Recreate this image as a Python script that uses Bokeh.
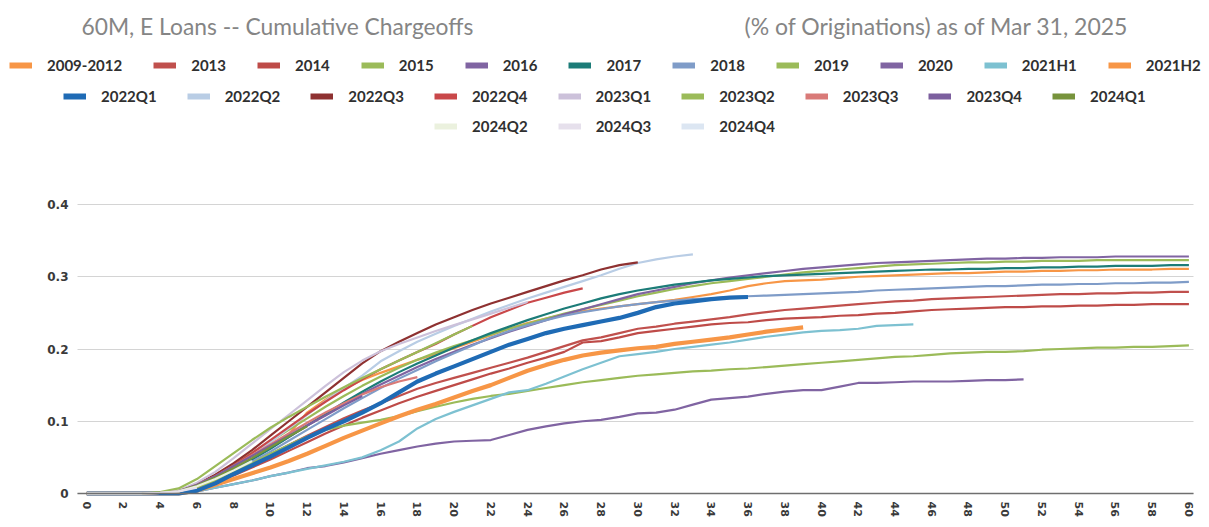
from bokeh.plotting import figure
from bokeh.models import Legend, LegendItem, Label, FixedTicker, Range1d, ColumnDataSource
from bokeh.embed import file_html
from bokeh.resources import INLINE

# ---------------- data (cumulative chargeoffs by month on book) ----------------
series_names = ["2009-2012", "2013", "2014", "2015", "2016", "2017", "2018", "2019",
                "2020", "2021H1", "2021H2",
                "2022Q1", "2022Q2", "2022Q3", "2022Q4", "2023Q1", "2023Q2", "2023Q3",
                "2023Q4", "2024Q1",
                "2024Q2", "2024Q3", "2024Q4"]

v_2009_2012 = [0, 0, 0, 0, 0.001, 0.003, 0.010, 0.020, 0.033, 0.048, 0.064, 0.082, 0.112, 0.130,
               0.145, 0.157, 0.167, 0.176, 0.185, 0.193, 0.201, 0.210, 0.219, 0.228, 0.236, 0.242,
               0.248, 0.252, 0.256, 0.259, 0.262, 0.265, 0.268, 0.272, 0.276, 0.281, 0.287, 0.291,
               0.294, 0.295, 0.296, 0.298, 0.300, 0.301, 0.302, 0.303, 0.304, 0.305, 0.305, 0.306,
               0.307, 0.307, 0.308, 0.308, 0.309, 0.309, 0.310, 0.310, 0.310, 0.311, 0.311]
v_2013 = [0, 0, 0, 0, 0.001, 0.003, 0.009, 0.018, 0.029, 0.041, 0.054, 0.067, 0.080, 0.092, 0.104,
          0.115, 0.125, 0.135, 0.145, 0.153, 0.160, 0.167, 0.174, 0.181, 0.188, 0.196, 0.204, 0.212,
          0.216, 0.222, 0.228, 0.231, 0.235, 0.238, 0.241, 0.244, 0.248, 0.251, 0.254, 0.256, 0.258,
          0.260, 0.262, 0.264, 0.266, 0.267, 0.269, 0.270, 0.271, 0.272, 0.273, 0.274, 0.275, 0.276,
          0.276, 0.277, 0.277, 0.278, 0.278, 0.279, 0.279]
v_2014 = [0, 0, 0, 0, 0.001, 0.002, 0.007, 0.015, 0.025, 0.036, 0.047, 0.059, 0.071, 0.083, 0.094,
          0.105, 0.115, 0.125, 0.134, 0.142, 0.150, 0.158, 0.166, 0.173, 0.181, 0.188, 0.196, 0.209,
          0.211, 0.216, 0.222, 0.225, 0.228, 0.231, 0.234, 0.236, 0.237, 0.240, 0.242, 0.243, 0.244,
          0.246, 0.247, 0.249, 0.250, 0.252, 0.254, 0.255, 0.256, 0.257, 0.258, 0.258, 0.259, 0.259,
          0.260, 0.260, 0.261, 0.261, 0.262, 0.262, 0.262]
v_2015 = [0, 0, 0, 0, 0.001, 0.004, 0.013, 0.025, 0.040, 0.056, 0.072, 0.088, 0.104, 0.120, 0.135,
          0.149, 0.162, 0.174, 0.185, 0.195, 0.204, 0.212, 0.220, 0.228, 0.235, 0.242, 0.249, 0.255,
          0.261, 0.267, 0.273, 0.278, 0.283, 0.287, 0.291, 0.294, 0.297, 0.300, 0.303, 0.306, 0.308,
          0.310, 0.312, 0.314, 0.316, 0.317, 0.318, 0.319, 0.320, 0.320, 0.321, 0.321, 0.322, 0.322,
          0.322, 0.323, 0.323, 0.323, 0.323, 0.323, 0.323]
v_2016 = [0, 0, 0, 0, 0.001, 0.003, 0.010, 0.021, 0.034, 0.048, 0.063, 0.078, 0.094, 0.109, 0.124,
          0.138, 0.151, 0.163, 0.175, 0.186, 0.196, 0.206, 0.215, 0.224, 0.232, 0.240, 0.248, 0.255,
          0.262, 0.269, 0.276, 0.281, 0.286, 0.291, 0.295, 0.299, 0.302, 0.305, 0.308, 0.311, 0.313,
          0.315, 0.317, 0.319, 0.320, 0.321, 0.322, 0.323, 0.324, 0.325, 0.325, 0.326, 0.326, 0.327,
          0.327, 0.327, 0.328, 0.328, 0.328, 0.328, 0.328]
v_2017 = [0, 0, 0, 0, 0.001, 0.003, 0.010, 0.020, 0.033, 0.047, 0.062, 0.078, 0.094, 0.110, 0.126,
          0.141, 0.155, 0.168, 0.180, 0.191, 0.202, 0.212, 0.222, 0.231, 0.240, 0.248, 0.256, 0.263,
          0.270, 0.276, 0.281, 0.285, 0.289, 0.292, 0.295, 0.297, 0.299, 0.301, 0.302, 0.303, 0.304,
          0.305, 0.306, 0.307, 0.308, 0.309, 0.310, 0.310, 0.311, 0.311, 0.312, 0.312, 0.313, 0.313,
          0.314, 0.314, 0.315, 0.315, 0.315, 0.316, 0.316]
v_2018 = [0, 0, 0, 0, 0.001, 0.003, 0.009, 0.019, 0.031, 0.044, 0.058, 0.073, 0.088, 0.103, 0.118,
          0.132, 0.146, 0.159, 0.171, 0.183, 0.194, 0.205, 0.216, 0.225, 0.233, 0.240, 0.246, 0.251,
          0.255, 0.259, 0.262, 0.265, 0.267, 0.269, 0.270, 0.272, 0.273, 0.274, 0.275, 0.276, 0.277,
          0.278, 0.279, 0.281, 0.282, 0.283, 0.284, 0.285, 0.286, 0.287, 0.287, 0.288, 0.289, 0.289,
          0.290, 0.290, 0.291, 0.291, 0.292, 0.292, 0.293]
v_2019 = [0, 0, 0, 0, 0.001, 0.001, 0.008, 0.018, 0.030, 0.042, 0.055, 0.067, 0.079, 0.088, 0.094,
          0.098, 0.102, 0.107, 0.114, 0.120, 0.126, 0.131, 0.135, 0.138, 0.142, 0.146, 0.150, 0.154,
          0.157, 0.160, 0.163, 0.165, 0.167, 0.169, 0.170, 0.172, 0.173, 0.175, 0.177, 0.179, 0.181,
          0.183, 0.185, 0.187, 0.189, 0.190, 0.192, 0.194, 0.195, 0.196, 0.196, 0.197, 0.199, 0.200,
          0.201, 0.202, 0.202, 0.203, 0.203, 0.204, 0.205]
v_2020 = [0, 0, 0, 0, 0, 0, 0.003, 0.008, 0.013, 0.018, 0.024, 0.029, 0.035, 0.038, 0.043, 0.049,
          0.055, 0.060, 0.065, 0.069, 0.072, 0.073, 0.074, 0.081, 0.088, 0.093, 0.097, 0.100, 0.102,
          0.106, 0.111, 0.112, 0.116, 0.123, 0.130, 0.132, 0.134, 0.138, 0.141, 0.143, 0.143, 0.148,
          0.153, 0.153, 0.154, 0.155, 0.155, 0.155, 0.156, 0.157, 0.157, 0.158]
v_2021H1 = [0, 0, 0, 0, 0, 0, 0.003, 0.008, 0.013, 0.018, 0.024, 0.029, 0.034, 0.039, 0.044, 0.050,
            0.060, 0.072, 0.090, 0.103, 0.113, 0.122, 0.131, 0.140, 0.143, 0.152, 0.162, 0.172, 0.181,
            0.190, 0.193, 0.196, 0.200, 0.203, 0.206, 0.209, 0.213, 0.217, 0.220, 0.223, 0.225, 0.226,
            0.228, 0.232, 0.233, 0.234]
v_2021H2 = [0, 0, 0, 0, 0, 0, 0.004, 0.012, 0.020, 0.028, 0.036, 0.045, 0.055, 0.066, 0.077, 0.087,
            0.097, 0.107, 0.116, 0.124, 0.133, 0.142, 0.150, 0.160, 0.170, 0.178, 0.185, 0.191, 0.195,
            0.198, 0.201, 0.203, 0.207, 0.210, 0.213, 0.216, 0.220, 0.224, 0.227, 0.230]
v_2022Q1 = [0, 0, 0, 0, 0, 0, 0.004, 0.014, 0.027, 0.039, 0.051, 0.064, 0.077, 0.089, 0.100, 0.112,
            0.125, 0.140, 0.155, 0.166, 0.176, 0.186, 0.196, 0.206, 0.214, 0.222, 0.228, 0.233, 0.238,
            0.243, 0.250, 0.258, 0.263, 0.266, 0.269, 0.271, 0.272]
v_2022Q2 = [0, 0, 0, 0, 0.001, 0.003, 0.011, 0.023, 0.037, 0.053, 0.071, 0.090, 0.109, 0.128, 0.146,
            0.163, 0.183, 0.197, 0.210, 0.221, 0.232, 0.242, 0.252, 0.261, 0.270, 0.278, 0.286, 0.294,
            0.302, 0.311, 0.319, 0.324, 0.328, 0.331]
v_2022Q3 = [0, 0, 0, 0, 0.001, 0.003, 0.013, 0.026, 0.042, 0.060, 0.080, 0.100, 0.120, 0.140, 0.160,
            0.180, 0.197, 0.210, 0.222, 0.234, 0.244, 0.254, 0.263, 0.271, 0.279, 0.287, 0.295, 0.302,
            0.310, 0.316, 0.320]
v_2022Q4 = [0, 0, 0, 0, 0.001, 0.003, 0.012, 0.024, 0.039, 0.056, 0.074, 0.092, 0.110, 0.127, 0.143,
            0.158, 0.172, 0.184, 0.196, 0.207, 0.220, 0.232, 0.244, 0.254, 0.264, 0.271, 0.278, 0.284]
v_2023Q1 = [0, 0, 0, 0, 0.001, 0.004, 0.015, 0.030, 0.049, 0.069, 0.089, 0.109, 0.129, 0.149, 0.168,
            0.184, 0.197, 0.207, 0.216, 0.225, 0.233, 0.241, 0.249, 0.257, 0.265]
v_2023Q2 = [0, 0, 0, 0, 0.002, 0.007, 0.020, 0.038, 0.056, 0.074, 0.091, 0.106, 0.120, 0.134, 0.147,
            0.160, 0.172, 0.184, 0.196, 0.208, 0.220, 0.232]
v_2023Q3 = [0, 0, 0, 0, 0.001, 0.003, 0.012, 0.024, 0.038, 0.053, 0.068, 0.083, 0.098, 0.112, 0.125,
            0.137, 0.147, 0.155, 0.161]
v_2023Q4 = [0, 0, 0, 0, 0.001, 0.003, 0.012, 0.024, 0.038, 0.052, 0.066, 0.080, 0.094, 0.108, 0.122,
            0.135]
v_2024Q1 = [0, 0, 0, 0, 0.001, 0.003, 0.011, 0.022, 0.035, 0.049, 0.064, 0.079, 0.093]
v_2024Q2 = [0, 0, 0, 0, 0.001, 0.003, 0.010, 0.020, 0.032, 0.045]
v_2024Q3 = [0, 0, 0, 0, 0.001, 0.003, 0.008]
v_2024Q4 = [0, 0, 0, 0]

series_values = [v_2009_2012, v_2013, v_2014, v_2015, v_2016, v_2017, v_2018, v_2019, v_2020,
                 v_2021H1, v_2021H2, v_2022Q1, v_2022Q2, v_2022Q3, v_2022Q4, v_2023Q1, v_2023Q2,
                 v_2023Q3, v_2023Q4, v_2024Q1, v_2024Q2, v_2024Q3, v_2024Q4]

series_colors = ["#F79646", "#C0504D", "#BE4B48", "#9BBB59", "#8064A2", "#1C7C78", "#7F9CC8",
                 "#9BBB59", "#8064A2", "#7DC1D1", "#F79646", "#1F6BB5", "#B9CDE5", "#8E3131",
                 "#C9484A", "#CCC1DA", "#9BBB59", "#D97A78", "#7C5F9E", "#77933C", "#EBF1DE",
                 "#E6E0EC", "#DCE6F2"]
thick_series = ["2021H2", "2022Q1"]

legend_rows = [series_names[0:11], series_names[11:20], series_names[20:23]]

x_tick_values = list(range(0, 61, 2))
y_tick_values = [0, 0.1, 0.2, 0.3, 0.4]
y_tick_labels = ["0", "0.1", "0.2", "0.3", "0.4"]

title_left = "60M, E Loans -- Cumulative Chargeoffs"
title_right = "(% of Originations) as of Mar 31, 2025"

# ---------------- layout geometry (pixels) ----------------
W, H = 1209, 527
PLOT_L, PLOT_R = 77, 1193      # left / right end of the axis & gridlines
ZERO_Y, TOP_Y = 493, 204       # pixel rows of y = 0 and y = 0.4
X_LO, X_HI = -0.5, 60.25       # data extent of axis line / gridlines
PX_PER_X = (PLOT_R - PLOT_L) / (X_HI - X_LO)
PX_PER_Y = (ZERO_Y - TOP_Y) / 0.4
x_start = X_LO - PLOT_L / PX_PER_X
x_end = X_HI + (W - PLOT_R) / PX_PER_X
y_start = -(H - ZERO_Y) / PX_PER_Y
y_end = ZERO_Y / PX_PER_Y

# the frame fills the whole canvas; axes are pinned inside it
p = figure(width=W, height=H, output_backend="svg", toolbar_location=None,
           x_range=Range1d(x_start, x_end), y_range=Range1d(y_start, y_end),
           min_border_left=0, min_border_right=0, min_border_top=0, min_border_bottom=0)
p.title.visible = False
p.outline_line_color = None
p.background_fill_color = "white"

swatch = {}
for name, vals, col in zip(series_names, series_values, series_colors):
    src = ColumnDataSource(data=dict(x=list(range(len(vals))), y=vals))
    lw = 4.2 if name in thick_series else 2.2
    p.line("x", "y", source=src, line_color=col, line_width=lw)
    # hidden thicker copy used only as the legend swatch
    swatch[name] = p.line("x", "y", source=src, line_color=col, line_width=6, visible=False)

# x axis at y = 0
p.xaxis.fixed_location = 0
p.xaxis.ticker = FixedTicker(ticks=x_tick_values)
p.xaxis.bounds = (X_LO, X_HI)
p.xaxis.major_label_orientation = "vertical"
p.xaxis.major_label_text_font = "DejaVu Sans"
p.xaxis.major_label_text_font_style = "bold"
p.xaxis.major_label_text_font_size = "11px"
p.xaxis.major_label_text_color = "#3a3a3a"
p.xaxis.major_label_standoff = 8
p.xaxis.major_tick_out = 0
p.xaxis.major_tick_in = 0
p.xaxis.axis_line_color = "#6f6f6f"
p.xaxis.axis_line_width = 1.5
p.xaxis.major_tick_line_color = None
p.xaxis.minor_tick_line_color = None

# y axis drawn at the left end of the gridlines
p.yaxis.fixed_location = X_LO
p.yaxis.ticker = FixedTicker(ticks=y_tick_values)
p.yaxis.bounds = (0, 0.4)
p.yaxis.major_label_overrides = {t: l for t, l in zip(y_tick_values, y_tick_labels)}
p.yaxis.major_label_text_font = "DejaVu Sans"
p.yaxis.major_label_text_font_style = "bold"
p.yaxis.major_label_text_font_size = "12px"
p.yaxis.major_label_text_color = "#3a3a3a"
p.yaxis.major_label_standoff = 9
p.yaxis.major_tick_out = 0
p.yaxis.major_tick_in = 0
p.yaxis.axis_line_color = None
p.yaxis.major_tick_line_color = None
p.yaxis.minor_tick_line_color = None

p.xgrid.visible = False
p.ygrid.ticker = FixedTicker(ticks=y_tick_values)
p.ygrid.grid_line_color = "#d4d4d4"
p.ygrid.grid_line_width = 1
if "cross_bounds" in p.ygrid[0].properties():
    p.ygrid.cross_bounds = (X_LO, X_HI)
else:
    p.ygrid.visible = False
    p.segment(x0=X_LO, x1=X_HI, y0=y_tick_values, y1=y_tick_values,
              line_color="#d4d4d4", line_width=1, level="underlay")

# titles (screen offsets from the frame's lower-left corner)
TITLE_Y = H - 25
p.add_layout(Label(x=81, y=TITLE_Y, x_units="screen", y_units="screen", text=title_left,
                   text_font="Lato", text_font_size="22.8px", text_color="#858585",
                   text_baseline="alphabetic"))
p.add_layout(Label(x=744, y=TITLE_Y, x_units="screen", y_units="screen", text=title_right,
                   text_font="Lato", text_font_size="23px", text_color="#858585",
                   text_baseline="alphabetic"))

# legend rows (bottom-left corners) and per-row item spacing
row_pos = [(9, H - 75), (63, H - 106), (434, H - 136)]
row_spacing = [31, 30, 30]
for names, loc, sp in zip(legend_rows, row_pos, row_spacing):
    items = [LegendItem(label=n, renderers=[swatch[n]]) for n in names]
    lg = Legend(items=items, orientation="horizontal", location=loc,
                glyph_width=23, glyph_height=20, label_height=20, label_width=20,
                label_standoff=15, spacing=sp, padding=0, margin=0,
                border_line_color=None, background_fill_alpha=0,
                inactive_fill_alpha=0,
                label_text_font="Lato", label_text_font_style="bold",
                label_text_font_size="15px", label_text_color="#303030")
    p.add_layout(lg, "center")

open("out.html", "w").write(file_html(p, INLINE))
